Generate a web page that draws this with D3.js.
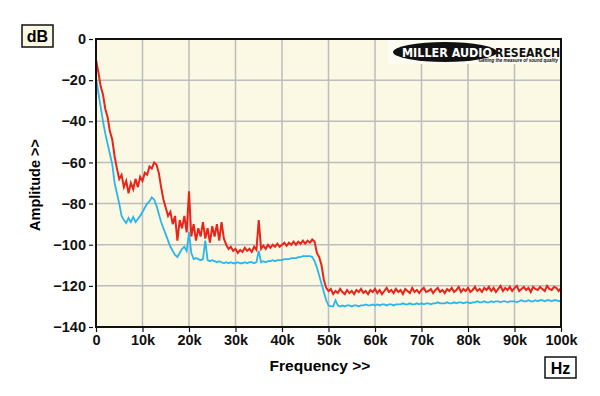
<!DOCTYPE html>
<html>
<head>
<meta charset="utf-8">
<script src="https://cdn.jsdelivr.net/npm/d3@7"></script>
<style>
  body { margin: 0; background: #fff; }
  text { font-family: Arial, "Liberation Sans", sans-serif; font-weight: bold; }
</style>
</head>
<body>
<div class="chart"></div>
<script>
var width = 600;
var height = 396;

// frequency grid in kHz, one point every 500 Hz
var freqKHz = d3.range(0, 100.25, 0.5);

var xTicks = [0, 10, 20, 30, 40, 50, 60, 70, 80, 90, 100];
var xTickLabels = ["0", "10k", "20k", "30k", "40k", "50k", "60k", "70k", "80k", "90k", "100k"];
var yTicks = [0, -20, -40, -60, -80, -100, -120, -140];

var redLevels = [
  -10, -16, -23, -27, -34, -38, -45, -49, -57, -63,
  -68, -66, -72, -69, -75, -70, -73, -68, -72, -67,
  -69, -65, -66, -62, -63, -60, -61, -65, -72, -78,
  -82, -86, -84, -90, -86, -98, -88, -92, -86, -94,
  -74, -96, -90, -98, -92, -96, -89, -97, -92, -99,
  -91, -96, -90, -98, -89, -97, -100, -102, -101, -103,
  -102, -104, -102.5, -103.5, -101.5, -103, -102, -103.5, -101, -102.5,
  -88, -102, -100.5, -102, -100, -101.5, -100, -101, -99.5, -101,
  -100, -99, -100.5, -99, -100, -98.5, -100, -98.5, -99.5, -98,
  -99.5, -98, -99, -97.5, -98.5, -104, -106, -110, -117, -121,
  -122.5, -121.5, -124, -122.5, -123.5, -121.5, -123, -124, -122, -123.5,
  -122.5, -124, -122, -123, -121.5, -123.5, -122.5, -124, -122, -123,
  -121.5, -123.5, -122, -124, -122.5, -121, -123, -122, -123.5, -121.5,
  -123, -122, -124, -121.5, -122.5, -123.5, -121, -123, -122, -123.5,
  -122, -121, -123, -122.5, -121.5, -123.5, -122, -121, -123, -122,
  -123.5, -121.5, -122.5, -121, -123, -122, -120.5, -123, -121.5, -122.5,
  -121, -123, -122, -120.5, -122.5, -121.5, -123, -121, -122, -120.5,
  -122.5, -121, -123, -121.5, -120, -122.5, -121, -122, -120.5, -122.5,
  -121, -120, -122.5, -121.5, -120.5, -122, -121, -123, -120.5, -121.5,
  -122, -120.5, -121.5, -122.5, -120, -121.5, -122, -120.5, -121, -122.5,
  -121
];

var blueLevels = [
  -19, -26, -33, -40, -46, -51, -56, -61, -70, -75,
  -80, -86, -88, -89.5, -87, -89, -86.5, -89, -87.5, -86,
  -84, -82, -80, -79, -77, -78, -81, -85, -89, -92,
  -95, -98, -101, -103, -105, -106, -104, -102, -101, -103,
  -94, -104, -107, -106.5, -107, -107.5, -107, -98, -107.5, -108,
  -107.5, -108, -108.5, -108, -108.5, -109, -108.5, -109, -108.5, -109,
  -109, -108.5, -109, -109, -108.5, -109, -108.5, -108.5, -109, -108.5,
  -103, -108.5, -108, -108.5, -108, -108, -107.5, -108, -107.5, -107.5,
  -107.5, -107, -107, -107, -106.5, -106.5, -106.5, -106, -106, -105.5,
  -105.5, -105.5, -105.5, -106, -108, -111, -115, -119, -123, -127,
  -129.5, -130, -130, -127, -129.5, -130, -129.5, -130, -129.5, -129.5,
  -130, -129.5, -129.5, -130, -129.5, -129.5, -129, -129.5, -129.5, -129,
  -129.5, -129, -129.5, -129, -129, -129.5, -129, -129, -129.5, -129,
  -129, -129, -128.5, -129, -129, -128.5, -129, -129, -128.5, -129,
  -128.5, -129, -128.5, -128.5, -129, -128.5, -128.5, -128, -128.5, -128.5,
  -128.5, -128, -128.5, -128.5, -128, -128.5, -128, -128, -128.5, -128,
  -128, -128.5, -128, -128, -127.5, -128, -128, -127.5, -128, -128,
  -127.5, -128, -127.5, -127.5, -128, -127.5, -127.5, -128, -127.5, -127.5,
  -127.5, -128, -127.5, -127, -127.5, -127.5, -127, -127.5, -127.5, -127,
  -127.5, -127, -127, -127.5, -127, -127, -127.5, -127, -127, -127.5,
  -127
];

var plotLeft = 96, plotRight = 561, plotTop = 39, plotBottom = 327;

var x = d3.scaleLinear().domain([0, 100]).range([plotLeft, plotRight]);
var y = d3.scaleLinear().domain([-140, 0]).range([plotBottom, plotTop]);

var svg = d3.select(".chart")
    .append("svg")
    .attr("width", width)
    .attr("height", height);

svg.append("rect")
    .attr("x", plotLeft)
    .attr("y", plotTop)
    .attr("width", plotRight - plotLeft)
    .attr("height", plotBottom - plotTop)
    .attr("fill", "#fbf8e4");

// grid
svg.append("g").selectAll("line")
    .data(xTicks.slice(1, -1))
    .enter().append("line")
    .attr("x1", function(d) { return x(d); })
    .attr("x2", function(d) { return x(d); })
    .attr("y1", plotTop)
    .attr("y2", plotBottom)
    .attr("stroke", "#bdbdbd")
    .attr("stroke-width", 1.5);

svg.append("g").selectAll("line")
    .data(yTicks.slice(1, -1))
    .enter().append("line")
    .attr("x1", plotLeft)
    .attr("x2", plotRight)
    .attr("y1", function(d) { return y(d); })
    .attr("y2", function(d) { return y(d); })
    .attr("stroke", "#bdbdbd")
    .attr("stroke-width", 1.5);

// logo patch hides grid behind it
svg.append("rect")
    .attr("x", 388)
    .attr("y", plotTop + 1)
    .attr("width", plotRight - 389)
    .attr("height", 24)
    .attr("fill", "#fdfcf2");

var logo = svg.append("g");
logo.append("ellipse")
    .attr("cx", 445)
    .attr("cy", 52)
    .attr("rx", 52)
    .attr("ry", 10)
    .attr("fill", "#111");
logo.append("text")
    .attr("x", 402)
    .attr("y", 56.5)
    .attr("fill", "#fff")
    .style("font-family", "'DejaVu Sans', sans-serif")
    .style("font-weight", "900")
    .style("font-size", "12px")
    .attr("textLength", 90)
    .attr("lengthAdjust", "spacingAndGlyphs")
    .text("MILLER AUDIO");
logo.append("text")
    .attr("x", 495)
    .attr("y", 56.5)
    .attr("fill", "#111")
    .style("font-family", "'DejaVu Sans', sans-serif")
    .style("font-weight", "900")
    .style("font-size", "12px")
    .attr("textLength", 65)
    .attr("lengthAdjust", "spacingAndGlyphs")
    .text("RESEARCH");
logo.append("text")
    .attr("x", 558)
    .attr("y", 62)
    .attr("text-anchor", "end")
    .attr("fill", "#111")
    .style("font-size", "4.5px")
    .style("font-style", "italic")
    .text("Getting the measure of sound quality");

var line = d3.line()
    .x(function(d) { return x(d.f); })
    .y(function(d) { return y(d.v); });

var blueData = freqKHz.map(function(f, i) { return { f: f, v: blueLevels[i] }; });
var redData = freqKHz.map(function(f, i) { return { f: f, v: redLevels[i] }; });

svg.append("path")
    .attr("d", line(blueData))
    .attr("fill", "none")
    .attr("stroke", "#2bb6ea")
    .attr("stroke-width", 1.8);

svg.append("path")
    .attr("d", line(redData))
    .attr("fill", "none")
    .attr("stroke", "#e8251b")
    .attr("stroke-width", 2);

// frame
svg.append("rect")
    .attr("x", plotLeft)
    .attr("y", plotTop)
    .attr("width", plotRight - plotLeft)
    .attr("height", plotBottom - plotTop)
    .attr("fill", "none")
    .attr("stroke", "#111")
    .attr("stroke-width", 2);

// axes
var yAxis = d3.axisLeft(y).tickValues(yTicks).tickSize(4).tickPadding(3);
var yg = svg.append("g")
    .attr("transform", "translate(" + (plotLeft - 3) + ",0)")
    .call(yAxis);
yg.select(".domain").remove();
yg.selectAll("text").style("font-size", "14.5px").attr("fill", "#111");
yg.selectAll("line").attr("stroke", "#111").attr("stroke-width", 1.2);

var xAxis = d3.axisBottom(x).tickValues(xTicks)
    .tickFormat(function(d, i) { return xTickLabels[i]; })
    .tickSize(4).tickPadding(3);
var xg = svg.append("g")
    .attr("transform", "translate(0," + (plotBottom + 1) + ")")
    .call(xAxis);
xg.select(".domain").remove();
xg.selectAll("text").style("font-size", "14.5px").attr("fill", "#111");
xg.selectAll("line").attr("stroke", "#111").attr("stroke-width", 1.2);

// unit boxes
svg.append("rect")
    .attr("x", 22).attr("y", 25).attr("width", 31).attr("height", 22)
    .attr("fill", "#fbf8e4").attr("stroke", "#111").attr("stroke-width", 1.5);
svg.append("text")
    .attr("x", 37.5).attr("y", 42)
    .attr("text-anchor", "middle")
    .style("font-size", "16px")
    .text("dB");

svg.append("rect")
    .attr("x", 545).attr("y", 357).attr("width", 31).attr("height", 21)
    .attr("fill", "#fff").attr("stroke", "#111").attr("stroke-width", 1.5);
svg.append("text")
    .attr("x", 560.5).attr("y", 373.5)
    .attr("text-anchor", "middle")
    .style("font-size", "16px")
    .text("Hz");

// axis titles
svg.append("text")
    .attr("transform", "translate(320,371)")
    .attr("text-anchor", "middle")
    .style("font-size", "15.5px")
    .text("Frequency >>");

svg.append("text")
    .attr("transform", "translate(40,185) rotate(-90)")
    .attr("text-anchor", "middle")
    .style("font-size", "14.5px")
    .text("Amplitude >>");
</script>
</body>
</html>
